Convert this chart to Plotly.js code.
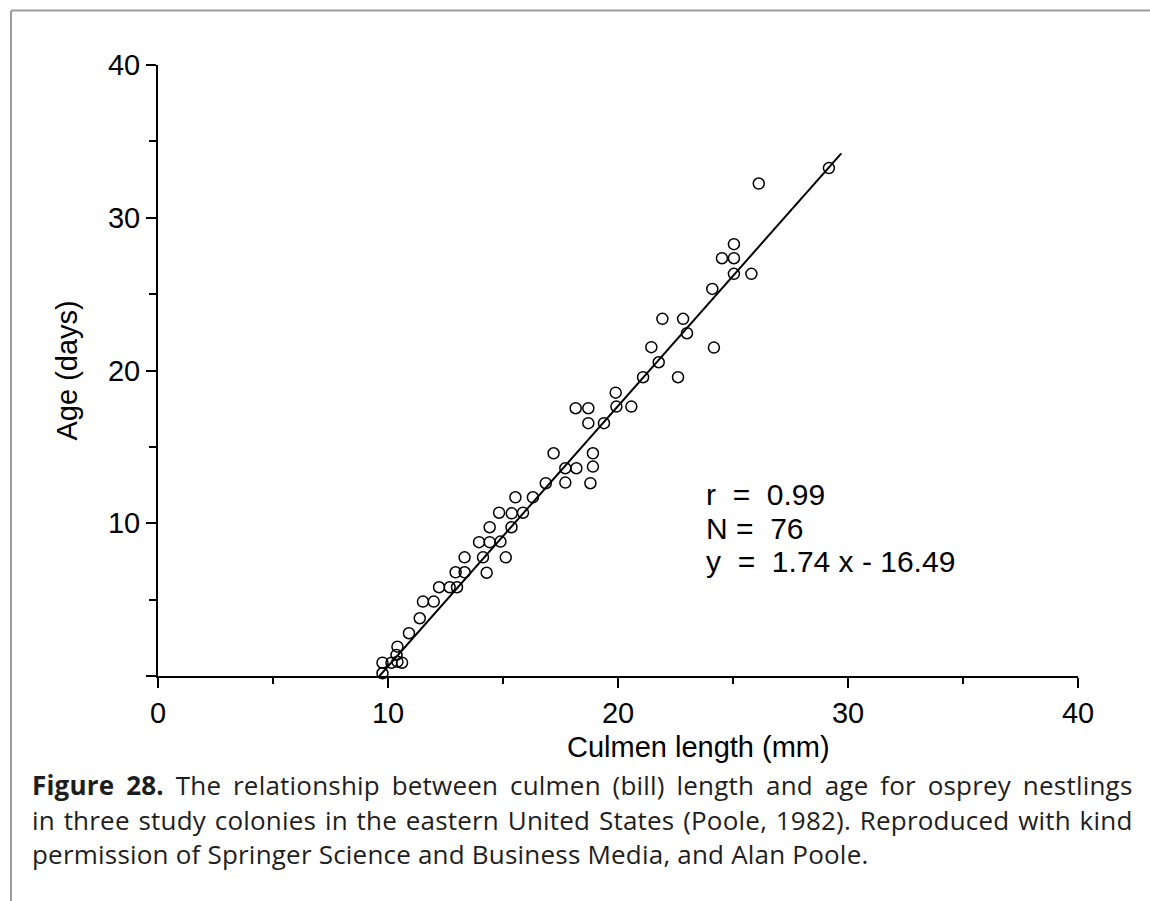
<!DOCTYPE html>
<html>
<head>
<meta charset="utf-8">
<script src="https://cdn.plot.ly/plotly-3.0.1.min.js"></script>
<style>
  html, body { margin: 0; padding: 0; background: #fff; }
  #chart { width: 1150px; height: 901px; }
</style>
</head>
<body>
<div id="chart"></div>
<script>
// ---- data ----
const culmen = [29.17, 26.12, 25.04, 24.52, 25.04, 25.04, 25.80, 24.10, 21.93, 22.83, 23.00, 21.45, 24.17, 21.77, 21.09, 22.61, 20.58,
  19.90, 18.16, 18.71, 19.93, 18.71, 19.39, 17.20, 18.91, 17.71, 18.19, 18.91, 16.86, 17.71, 18.80, 15.54, 16.30,
  14.83, 15.38, 15.87, 14.42, 15.37, 13.96, 14.42, 14.89, 13.33, 14.13, 15.12, 12.94, 13.33, 14.29, 12.22, 12.68,
  13.00, 11.52, 11.99, 11.38, 10.91, 10.41, 10.37, 10.41, 9.76, 10.15, 10.61, 9.76];
const age = [33.25, 32.24, 28.27, 27.35, 27.35, 26.33, 26.33, 25.34, 23.38, 23.38, 22.44, 21.53, 21.50, 20.54, 19.56, 19.56, 17.64,
  18.55, 17.53, 17.53, 17.64, 16.55, 16.55, 14.58, 14.58, 13.60, 13.60, 13.71, 12.62, 12.66, 12.62, 11.70, 11.70,
  10.69, 10.65, 10.69, 9.74, 9.74, 8.76, 8.76, 8.80, 7.77, 7.77, 7.77, 6.79, 6.79, 6.76, 5.81, 5.81,
  5.81, 4.87, 4.87, 3.78, 2.80, 1.92, 1.38, 0.94, 0.87, 0.87, 0.87, 0.18];
const fitX = [9.63, 29.71];
const fitY = [0, 34.22];

const xTickVals = [0, 10, 20, 30, 40];
const xTickText = ['0', '10', '20', '30', '40'];
const xMinorVals = [5, 15, 25, 35];
const yTickVals = [0, 10, 20, 30, 40];
const yTickText = ['', '10', '20', '30', '40'];
const yMinorVals = [5, 15, 25, 35];

const xTitle = 'Culmen length (mm)';
const yTitle = 'Age (days)';
const statLines = ['r\u00A0\u00A0=\u00A0\u00A00.99', 'N\u00A0=\u00A0\u00A076', 'y\u00A0\u00A0=\u00A0\u00A01.74 x - 16.49'];
const captionLines = [
  '<b>Figure 28.</b> The relationship between culmen (bill) length and age for osprey nestlings',
  'in three study colonies in the eastern United States (Poole, 1982). Reproduced with kind',
  'permission of Springer Science and Business Media, and Alan Poole.'
];

// ---- layout geometry (pixels) ----
const W = 1150, H = 901;
const PL = 158, PT = 65, PW = 920, PH = 611;
const px2x = px => (px - PL) / PW;
const py2y = py => (PT + PH - py) / PH;

const AXIS_FONT = 'Liberation Sans, Arial, sans-serif';
const CAP_FONT = 'Open Sans, Noto Sans, sans-serif';
const CAP_LEFT = 30.5, CAP_RIGHT = 1131, CAP3_RIGHT = 867;
const CAP_SIZE = 26;

const traces = [
  { x: fitX, y: fitY, type: 'scatter', mode: 'lines', line: { color: '#000', width: 2 }, hoverinfo: 'skip', cliponaxis: false },
  { x: culmen, y: age, type: 'scatter', mode: 'markers', cliponaxis: false,
    marker: { symbol: 'circle-open', size: 11, color: '#000', line: { width: 1.5, color: '#000' } } }
];

const annotations = [];
// axis titles
annotations.push({ text: xTitle, xref: 'paper', yref: 'paper', x: px2x(698), y: py2y(747),
  xanchor: 'center', yanchor: 'middle', showarrow: false, font: { family: AXIS_FONT, size: 29, color: '#000' } });
annotations.push({ text: yTitle, xref: 'paper', yref: 'paper', x: px2x(66), y: py2y(370.5), textangle: -90,
  xanchor: 'center', yanchor: 'middle', showarrow: false, font: { family: AXIS_FONT, size: 29, color: '#000' } });
// statistics
const statCenters = [494.6, 528.6, 561.6];
statLines.forEach((t, i) => annotations.push({ text: t, xref: 'paper', yref: 'paper', x: px2x(704), y: py2y(statCenters[i]),
  xanchor: 'left', yanchor: 'middle', align: 'left', showarrow: false, font: { family: AXIS_FONT, size: 30, color: '#000' } }));
// caption
const capStart = annotations.length;
const capCenters = [784.5, 820, 854];
captionLines.forEach((t, i) => annotations.push({ text: t, xref: 'paper', yref: 'paper', x: px2x(CAP_LEFT - 1), y: py2y(capCenters[i]),
  xanchor: 'left', yanchor: 'middle', align: 'left', showarrow: false, font: { family: CAP_FONT, size: CAP_SIZE, color: '#1e1e1e' } }));

const frameColor = '#9d9d9d';
const shapes = [
  { type: 'line', xref: 'paper', yref: 'paper', x0: px2x(11), x1: px2x(W + 2), y0: py2y(10.5), y1: py2y(10.5), line: { color: frameColor, width: 2 } },
  { type: 'line', xref: 'paper', yref: 'paper', x0: px2x(11), x1: px2x(11), y0: py2y(10.5), y1: py2y(H + 2), line: { color: frameColor, width: 2 } }
];

const axisCommon = {
  range: [0, 40], showgrid: false, zeroline: false, showline: true, linecolor: '#000', linewidth: 2,
  ticks: 'outside', ticklen: 10, tickwidth: 2, tickcolor: '#000', fixedrange: true,
  tickfont: { family: AXIS_FONT, size: 29, color: '#000' }
};

const layout = {
  width: W, height: H,
  margin: { l: PL, r: W - PL - PW, t: PT, b: H - PT - PH, pad: 0 },
  paper_bgcolor: '#fff', plot_bgcolor: '#fff', showlegend: false,
  font: { family: AXIS_FONT, size: 29, color: '#000' },
  xaxis: Object.assign({}, axisCommon, { tickmode: 'array', tickvals: xTickVals, ticktext: xTickText,
    minor: { tickmode: 'array', tickvals: xMinorVals, ticks: 'outside', ticklen: 6, tickwidth: 2, tickcolor: '#000', showgrid: false } }),
  yaxis: Object.assign({}, axisCommon, { tickmode: 'array', tickvals: yTickVals, ticktext: yTickText,
    minor: { tickmode: 'array', tickvals: yMinorVals, ticks: 'outside', ticklen: 7, tickwidth: 2, tickcolor: '#000', showgrid: false } }),
  annotations: annotations,
  shapes: shapes
};

function fitCaption(gd) {
  const el = i => gd.querySelector('.annotation[data-index="' + (capStart + i) + '"] .annotation-text');
  const t3 = el(2);
  if (!t3) return;
  const w3 = t3.getComputedTextLength();
  const n3 = t3.textContent.length;
  const ls = (CAP3_RIGHT - CAP_LEFT - w3) / n3;
  [0, 1, 2].forEach(i => { const t = el(i); if (t) t.style.letterSpacing = ls.toFixed(3) + 'px'; });
  [0, 1].forEach(i => {
    const t = el(i); if (!t) return;
    const w = t.getComputedTextLength();
    const n = (t.textContent.match(/ /g) || []).length;
    t.style.wordSpacing = (((CAP_RIGHT - CAP_LEFT) - w) / n).toFixed(3) + 'px';
  });
}

Plotly.newPlot('chart', traces, layout, { displayModeBar: false, staticPlot: true }).then(fitCaption);
</script>
</body>
</html>
